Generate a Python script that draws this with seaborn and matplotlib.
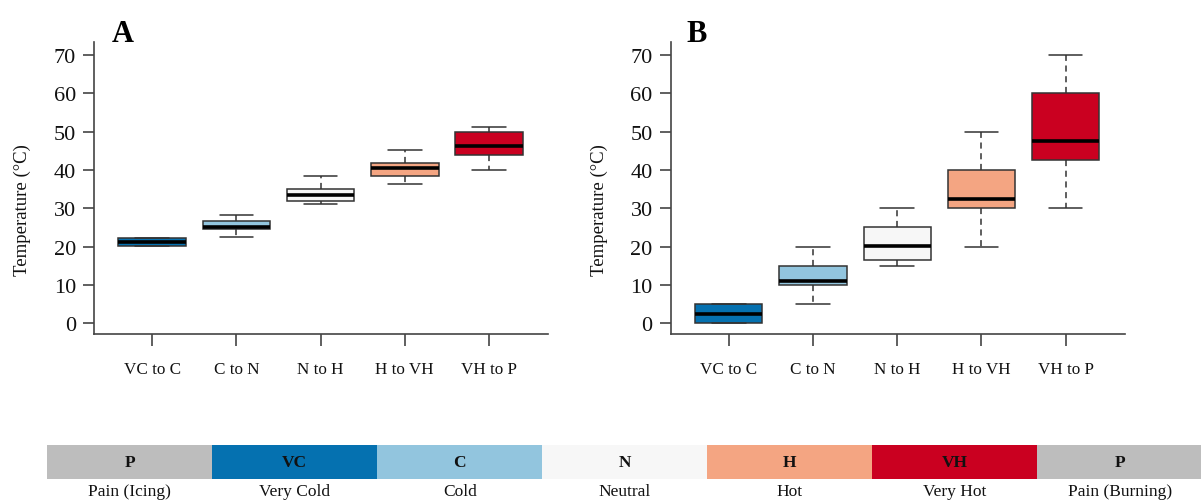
import numpy as np
import pandas as pd
import matplotlib
matplotlib.use("Agg")
import matplotlib.pyplot as plt
from matplotlib.colors import ListedColormap
import seaborn as sns

# ---------------- data ----------------
categories = ["VC to C", "C to N", "N to H", "H to VH", "VH to P"]
box_colors = ["#0571B0", "#92C5DE", "#F7F7F7", "#F4A582", "#CA0020"]

# Panel A five-number summaries
a_min = [20.1, 22.6, 31.2, 36.3, 40.0]
a_q1 = [20.1, 24.6, 31.8, 38.4, 43.9]
a_med = [21.3, 25.2, 33.4, 40.6, 46.2]
a_q3 = [22.3, 26.8, 35.0, 41.9, 49.9]
a_max = [22.3, 28.3, 38.5, 45.1, 51.1]

# Panel B five-number summaries
b_min = [0.0, 5.0, 15.0, 20.0, 30.0]
b_q1 = [0.0, 10.0, 16.5, 30.0, 42.7]
b_med = [2.4, 11.1, 20.1, 32.4, 47.5]
b_q3 = [5.0, 15.0, 25.0, 40.0, 60.0]
b_max = [5.0, 20.0, 30.0, 50.0, 70.0]

y_ticks = [0, 10, 20, 30, 40, 50, 60, 70]

scale_codes = ["P", "VC", "C", "N", "H", "VH", "P"]
scale_names = ["Pain (Icing)", "Very Cold", "Cold", "Neutral", "Hot", "Very Hot", "Pain (Burning)"]
scale_colors = ["#BDBDBD", "#0571B0", "#92C5DE", "#F7F7F7", "#F4A582", "#CA0020", "#BDBDBD"]


def long_frame(mins, q1s, meds, q3s, maxs):
    rows = []
    for c, v0, v1, v2, v3, v4 in zip(categories, mins, q1s, meds, q3s, maxs):
        for v in (v0, v1, v2, v3, v4):
            rows.append({"cat": c, "temp": v})
    return pd.DataFrame(rows)


df_a = long_frame(a_min, a_q1, a_med, a_q3, a_max)
df_b = long_frame(b_min, b_q1, b_med, b_q3, b_max)

# ---------------- style ----------------
sns.set_style("ticks")
plt.rcParams["font.family"] = ["Liberation Serif", "DejaVu Serif"]
plt.rcParams["text.color"] = "#111111"
plt.rcParams["axes.labelcolor"] = "#111111"
plt.rcParams["xtick.labelcolor"] = "#111111"
plt.rcParams["ytick.labelcolor"] = "#111111"

W, H = 1201, 502
fig = plt.figure(figsize=(W / 100, H / 100), dpi=100)

axis_col = "#444444"


def px_rect(left, top, right, bottom):
    return [left / W, 1 - bottom / H, (right - left) / W, (bottom - top) / H]


ax_a = fig.add_axes(px_rect(94, 43.3, 548, 335))
ax_b = fig.add_axes(px_rect(670.7, 43.3, 1124.5, 335))

for ax, df in ((ax_a, df_a), (ax_b, df_b)):
    sns.boxplot(
        data=df, x="cat", y="temp", hue="cat", order=categories,
        hue_order=categories, palette=box_colors, legend=False,
        saturation=1, width=0.8, whis=(0, 100), linecolor="#333333",
        linewidth=1.1,
        whiskerprops={"linestyle": (0, (4, 3))},
        medianprops={"color": "black", "linewidth": 2.6},
        showfliers=False, ax=ax,
    )
    ax.set_xlim(-0.69, 4.70)
    ax.set_ylim(-2.79, 73.3)
    ax.set_yticks(y_ticks)
    ax.set_xlabel("")
    ax.set_ylabel("Temperature (°C)", fontsize=13.5)
    ax.yaxis.set_label_coords(-0.139, 0.43)
    sns.despine(ax=ax)
    for s in ("left", "bottom"):
        ax.spines[s].set_color(axis_col)
        ax.spines[s].set_linewidth(1.2)
    ax.tick_params(axis="y", labelsize=16, length=8, width=1.2, color=axis_col, pad=5)
    ax.tick_params(axis="x", labelsize=12.3, length=8.5, width=1.2, color=axis_col, pad=11)

fig.text(112 / W, 1 - 42 / H, "A", fontsize=22, fontweight="bold", va="baseline", color="black")
fig.text(686 / W, 1 - 42 / H, "B", fontsize=22, fontweight="bold", va="baseline", color="black")

# ---------------- colour scale bar ----------------
ax_s = fig.add_axes(px_rect(47.3, 446, 1202.3, 480.3))
codes = np.arange(len(scale_codes)).reshape(1, -1)
sns.heatmap(
    codes, cmap=ListedColormap(scale_colors), cbar=False,
    annot=np.array(scale_codes).reshape(1, -1), fmt="",
    annot_kws={"color": "#111111", "fontsize": 12.5, "fontweight": "bold"},
    xticklabels=scale_names, yticklabels=False, ax=ax_s,
)
ax_s.tick_params(axis="x", length=0, labelsize=12.5, pad=3, rotation=0)
for s in ax_s.spines.values():
    s.set_visible(False)

fig.savefig("out.png", dpi=100)
